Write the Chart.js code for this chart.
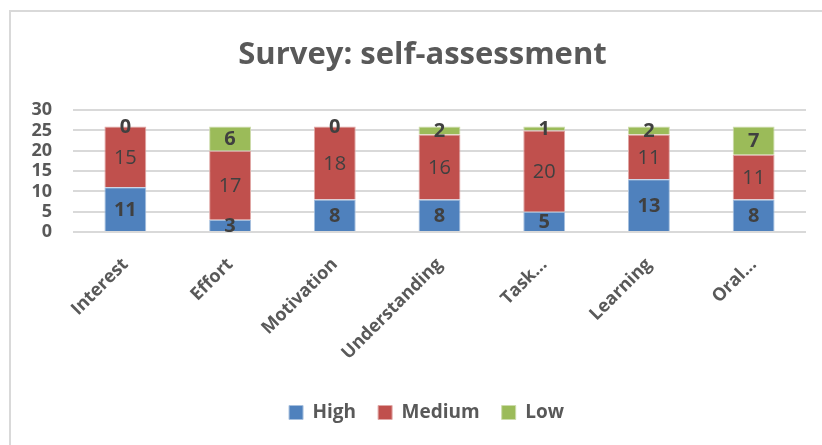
<!DOCTYPE html>
<html>
<head>
<meta charset="utf-8">
<script src="https://cdn.jsdelivr.net/npm/chart.js@4"></script>
<style>
  html, body { margin: 0; padding: 0; background: #fff; overflow: hidden; }
  #box { position: absolute; left: 9px; top: 10px; width: 830px; height: 445px; border: 2px solid #d9d9d9; box-sizing: border-box; }
  #wrap { position: absolute; left: 0; top: 0; width: 826px; height: 433px; }
</style>
</head>
<body>
<div id="box"><div id="wrap"><canvas id="myChart"></canvas></div></div>
<script>
const categories = ['Interest', 'Effort', 'Motivation', 'Understanding', 'Task...', 'Learning', 'Oral...'];
const high = [11, 3, 8, 8, 5, 13, 8];
const medium = [15, 17, 18, 16, 20, 11, 11];
const low = [0, 6, 0, 2, 1, 2, 7];
const yTicks = [0, 5, 10, 15, 20, 25, 30];

const FONT = '"Open Sans", "Noto Sans", sans-serif';

// simple value labels in the middle of each segment
const valueLabels = {
  id: 'valueLabels',
  afterDatasetsDraw(chart) {
    let ctx = chart.ctx;
    chart.data.datasets.forEach((ds, i) => {
      let meta = chart.getDatasetMeta(i);
      meta.data.forEach((bar, j) => {
        let p = bar.getCenterPoint();
        ctx.save();
        ctx.font = (ds.labelBold ? 'bold ' : '') + '20px ' + FONT;
        ctx.fillStyle = '#404040';
        ctx.textAlign = 'center';
        ctx.textBaseline = 'middle';
        ctx.fillText(ds.data[j], p.x, p.y + 1);
        ctx.restore();
      });
    });
  }
};

// title and legend sit a bit right of the plot centre in the original
const nudge = {
  id: 'nudge',
  afterLayout(chart) {
    if (chart.titleBlock) { chart.titleBlock.left += 5; chart.titleBlock.right += 5; }
    if (chart.legend) { chart.legend.left += 9; chart.legend.right += 9; }
  }
};

let ctx = document.getElementById('myChart');
let myChart = new Chart(ctx, {
  type: 'bar',
  data: {
    labels: categories,
    datasets: [
      { label: 'High', data: high, backgroundColor: '#4f81bd', borderColor: '#a7c0de', borderWidth: 1, labelBold: true },
      { label: 'Medium', data: medium, backgroundColor: '#c0504d', borderColor: '#e0a8a6', borderWidth: 1, labelBold: false },
      { label: 'Low', data: low, backgroundColor: '#9bbb59', borderColor: '#cddcac', borderWidth: 1, labelBold: true }
    ]
  },
  options: {
    responsive: true,
    maintainAspectRatio: false,
    animation: false,
    layout: { padding: { left: 18, right: 31, top: 0, bottom: 13 } },
    datasets: { bar: { categoryPercentage: 1, barPercentage: 0.4 } },
    scales: {
      x: {
        stacked: true,
        grid: { display: false },
        border: { display: false },
        afterFit: scale => { scale.height += 3; },
        ticks: {
          color: '#595959',
          font: { family: FONT, size: 18, weight: 'bold' },
          maxRotation: 45,
          minRotation: 45,
          padding: 14
        }
      },
      y: {
        stacked: true,
        min: 0,
        max: 30,
        afterBuildTicks: axis => { axis.ticks = yTicks.map(v => ({ value: v })); },
        afterFit: scale => { scale.width = 44; },
        grid: { color: '#d9d9d9', lineWidth: 2, drawTicks: false },
        border: { display: false },
        ticks: {
          color: '#595959',
          font: { family: FONT, size: 18, weight: 'bold', lineHeight: 1 },
          autoSkip: false,
          padding: 21
        }
      }
    },
    plugins: {
      title: {
        display: true,
        text: 'Survey: self-assessment',
        color: '#595959',
        font: { family: FONT, size: 31, weight: 'bold' },
        padding: { top: 25, bottom: 36 }
      },
      legend: {
        position: 'bottom',
        labels: {
          color: '#595959',
          font: { family: FONT, size: 19, weight: 'bold' },
          boxWidth: 14,
          boxHeight: 14,
          padding: 22
        }
      },
      tooltip: { enabled: false }
    }
  },
  plugins: [valueLabels, nudge]
});
</script>
</body>
</html>
